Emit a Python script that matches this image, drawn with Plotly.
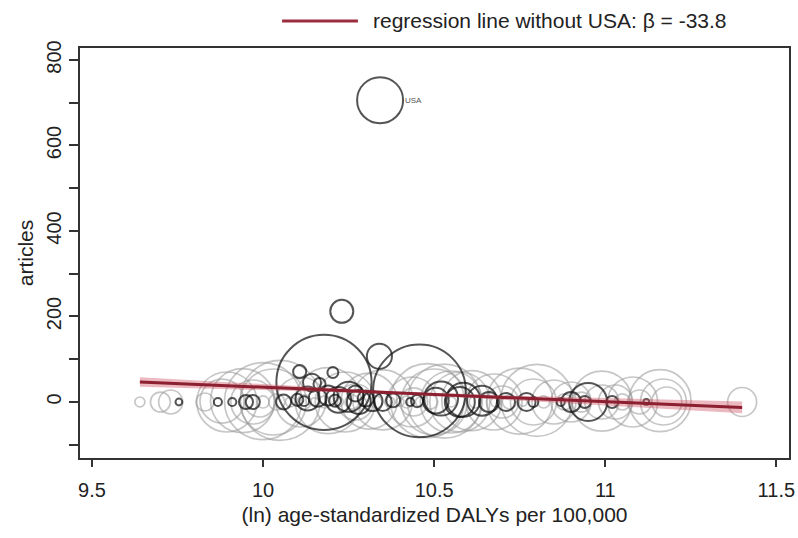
import numpy as np
import plotly.graph_objects as go

# ---------------- data ----------------
# countries with articles (black circles), bubble = population (millions)
black_x = [10.342, 10.23, 10.34, 10.178, 10.457, 10.107, 10.204, 10.143, 10.165,
           9.754, 9.868, 9.91, 9.95, 9.97, 10.06, 10.10, 10.12, 10.13, 10.16, 10.19,
           10.21, 10.22, 10.25, 10.27, 10.28, 10.30, 10.32, 10.35, 10.38, 10.43, 10.45,
           10.505, 10.52, 10.575, 10.585, 10.64, 10.66, 10.71, 10.77, 10.79, 10.87,
           10.90, 10.94, 10.95, 11.02, 11.12]
black_y = [706, 212, 107, 46, 26, 71, 69, 45, 42,
           0, 0, 0, 0, 0, 0, 5, 2, 8, 10, 15,
           3, 5, 12, 20, 0, 8, 2, 0, 4, 0, 2,
           3, 8, 0, 5, 3, 0, 0, 0, 0, 0,
           0, 0, 0, 0, 0]
black_pop = [320, 80, 95, 1370, 1300, 26, 18, 49, 22,
             7, 10, 10, 30, 30, 34, 22, 15, 87, 49, 60,
             22, 100, 136, 39, 87, 39, 60, 49, 30, 10, 22,
             100, 175, 136, 175, 136, 60, 49, 49, 15, 10,
             60, 22, 218, 22, 5]

# countries without articles (grey circles)
grey_x = [9.64, 9.70, 9.73, 9.83, 9.88, 9.894, 9.94, 9.97, 10.00, 10.03, 10.05, 10.11,
          10.19, 10.24, 10.31, 10.35, 10.435, 10.48, 10.50, 10.53, 10.55, 10.575,
          10.61, 10.675, 10.75, 10.79, 10.80, 10.85, 10.99, 10.99, 11.03, 11.16,
          11.17, 11.18, 11.40,
          10.00, 10.04, 10.08, 10.12, 10.15, 10.18, 10.22, 10.26, 10.29, 10.33, 10.37,
          10.40, 10.42, 10.46, 10.49, 10.55, 10.62, 10.68, 10.72, 10.76, 10.82, 10.88,
          10.93, 11.05, 11.10, 9.99, 10.27, 10.44, 10.70, 10.90, 11.08]
grey_y = [0, 0, 0, 0, 2, 0, 3, 0, 2, 0, 4, 0,
          3, 0, 2, 5, 0, 3, 0, 2, 0, 0,
          3, 0, 2, 0, 4, 0, 2, 0, 0, 3,
          0, 0, 0,
          0, 0, 0, 0, 0, 0, 0, 0, 0, 0, 0,
          0, 0, 0, 0, 0, 0, 0, 0, 0, 0, 0,
          0, 0, 0, 0, 0, 0, 0, 0, 0]
grey_weight = [15, 60, 87, 49, 293, 545, 620, 293, 900, 659, 968, 378,
               659, 545, 474, 545, 378, 828, 659, 828, 581, 545,
               545, 474, 659, 320, 784, 293, 545, 175, 175, 581,
               320, 136, 127,
               22, 39, 15, 30, 10, 22, 15, 30, 10, 22, 15,
               10, 22, 15, 30, 15, 22, 15, 30, 10, 22, 39,
               60, 39, 87, 136, 196, 119, 155, 242, 378]

# regression without USA
beta = -33.8
intercept = 372.6
ci_base = 3.0
ci_slope = 13.7

xticks = [9.5, 10, 10.5, 11, 11.5]
xticklabels = ["9.5", "10", "10.5", "11", "11.5"]
yticks = [-100, 0, 100, 200, 300, 400, 500, 600, 700, 800]
yticklabels = ["", "0", "", "200", "", "400", "", "600", "", "800"]

# ---------------- figure ----------------
FONT = "Liberation Sans, Arial, sans-serif"
SIZEREF = 0.3025

fig = go.Figure()

fig.add_trace(go.Scatter(
    x=grey_x, y=grey_y, mode="markers", showlegend=False, hoverinfo="skip",
    marker=dict(size=grey_weight, sizemode="area", sizeref=SIZEREF, symbol="circle",
                color="rgba(0,0,0,0)", line=dict(color="rgba(155,155,155,0.8)", width=1.7))))

fig.add_trace(go.Scatter(
    x=black_x, y=black_y, mode="markers", showlegend=False, hoverinfo="skip",
    marker=dict(size=black_pop, sizemode="area", sizeref=SIZEREF, symbol="circle",
                color="rgba(0,0,0,0)", line=dict(color="#0d0d0d", width=2))))

# regression line + CI (fit excludes USA)
fit_x = [v for v, yv in zip(black_x + grey_x, black_y + grey_y) if yv < 700]
xs = np.linspace(min(fit_x), max(fit_x), 60)
xm = float(np.mean(fit_x))
yhat = intercept + beta * xs
hw = np.sqrt(ci_base ** 2 + (ci_slope * (xs - xm)) ** 2)
fig.add_trace(go.Scatter(
    x=np.concatenate([xs, xs[::-1]]), y=np.concatenate([yhat + hw, (yhat - hw)[::-1]]),
    fill="toself", fillcolor="rgba(205,80,95,0.4)", line=dict(width=0),
    mode="lines", showlegend=False, hoverinfo="skip"))
fig.add_trace(go.Scatter(
    x=xs, y=yhat, mode="lines", line=dict(color="#8c1f30", width=3),
    showlegend=False, hoverinfo="skip"))

# USA label
usa_i = int(np.argmax(black_y))
fig.add_annotation(x=black_x[usa_i], y=black_y[usa_i], text="USA", showarrow=False,
                   xanchor="left", xshift=23, font=dict(family=FONT, size=8, color="#555"))

# manual legend
fig.add_shape(type="line", xref="paper", yref="paper", x0=0.285, x1=0.392,
              y0=1.066, y1=1.066, line=dict(color="#9b2d3e", width=3))
fig.add_annotation(xref="paper", yref="paper", x=0.41, y=1.066, xanchor="left",
                   yanchor="middle", showarrow=False,
                   text=f"regression line without USA: β = {beta}",
                   font=dict(family=FONT, size=21, color="#222"))

axis_common = dict(showline=True, linecolor="#333", linewidth=1.5, mirror=True,
                   ticks="outside", tickcolor="#333", tickwidth=1.5,
                   showgrid=False, zeroline=False, automargin=False,
                   ticklabeloverflow="allow",
                   tickfont=dict(family=FONT, size=20, color="#222"))

fig.update_layout(
    width=798, height=538,
    margin=dict(l=80, r=9, t=48, b=80),
    plot_bgcolor="white", paper_bgcolor="white",
    xaxis=dict(range=[9.465, 11.537], tickvals=xticks, ticktext=xticklabels, ticklen=7,
               ticklabelstandoff=6,
               title=dict(text="(ln) age-standardized DALYs per 100,000",
                          font=dict(family=FONT, size=21, color="#222"), standoff=8),
               **axis_common),
    yaxis=dict(range=[-131, 828], tickvals=yticks, ticktext=yticklabels, ticklen=9,
               tickangle=-90,
               title=dict(text="articles", font=dict(family=FONT, size=21, color="#222"),
                          standoff=4),
               **axis_common),
)

fig.write_html("out.html", config={"displayModeBar": False},
               post_script="document.body.style.margin='0';document.body.style.overflow='hidden';")
